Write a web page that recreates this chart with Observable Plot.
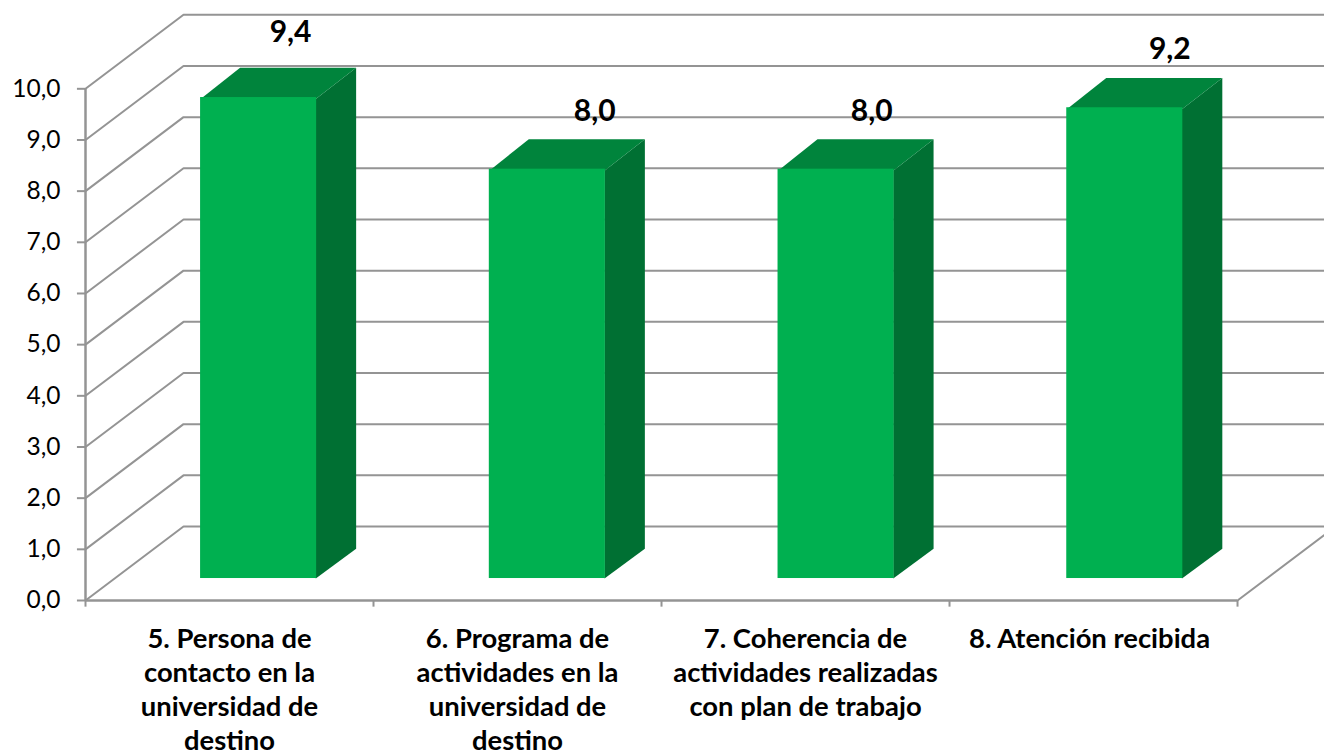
<!DOCTYPE html>
<html lang="es">
<head>
<meta charset="utf-8">
<title>Valoración</title>
<script src="https://cdn.jsdelivr.net/npm/d3@7"></script>
<script src="https://cdn.jsdelivr.net/npm/@observablehq/plot@0.6"></script>
<style>
html,body{margin:0;padding:0;background:#fff;overflow:hidden}
svg{display:block}
</style>
</head>
<body>
<div id="chart"></div>
<script>
const categories = [
  "5. Persona de\ncontacto en la\nuniversidad de\ndestino",
  "6. Programa de\nactividades en la\nuniversidad de\ndestino",
  "7. Coherencia de\nactividades realizadas\ncon plan de trabajo",
  "8. Atención recibida"
];
const values = [9.4, 8.0, 8.0, 9.2];
const yTicks = [0,1,2,3,4,5,6,7,8,9,10];
const xTicks = [0,1,2,3,4];

// Oblique projection of the 3D chart box, expressed in axis units.
const depthX = 0.3403, depthY = 1.446;
const project = (cat, val, z) => ({x: cat + z * depthX, y: val + z * depthY});
const barFront = 0.297, barBack = 0.70, barHalf = 0.2015, barStep = 1.0025;
const seamX = 0.003, seamY = 0.03; // faces overlap slightly so no seam shows
const fmt = d => d.toFixed(1).replace(".", ",");
const GRID = "#949494", AXIS = "#949494", INK = "#000";
const FONT = "Lato, Carlito, sans-serif";

const bars = values.map((v, i) => ({i, v, c: 0.5 + i * barStep, label: categories[i]}));
const corners = d => {
  const fr = project(d.c + barHalf, 0, barFront), tr = project(d.c + barHalf, d.v, barFront);
  const tl = project(d.c - barHalf, d.v, barFront);
  return {
    sideBottom: {x: fr.x - seamX, y: fr.y},
    sideTop: {x: tr.x - seamX, y: tr.y - seamY},
    topLeft: {x: tl.x, y: tl.y - seamY},
    topRight: {x: tr.x - seamX, y: tr.y - seamY},
    br: project(d.c + barHalf, 0, barBack),
    ur: project(d.c + barHalf, d.v, barBack),
    ul: project(d.c - barHalf, d.v, barBack)
  };
};
const facePts = keys => bars.flatMap(d => {
  const k = corners(d);
  return keys.map(n => ({...k[n], bar: d.i}));
});
const sideFace = facePts(["sideBottom", "br", "ur", "sideTop"]);
const topFace = facePts(["topLeft", "topRight", "ur", "ul"]);

const wall = yTicks.flatMap(v => [
  {v, ...project(0, v, 0)}, {v, ...project(0, v, 1)}, {v, ...project(4, v, 1)}
]);
const floorEdge = [project(4, 0, 0), project(4, 0, 1)];

// Hand placement of the data labels, as in the source chart.
const labelDx = [0.111, 0.167, 0.129, 0.164];
const labelDy = [1.70, 1.55, 1.55, 1.57];
const labels = bars.map((d, i) => ({
  x: 0.5 + i + labelDx[i] + barFront * depthX,
  y: d.v + labelDy[i],
  t: fmt(d.v)
}));
const catDx = [0, 0, 0, -4];

const chart = Plot.plot({
  width: 1324, height: 755,
  marginLeft: 85, marginRight: 0, marginTop: 14, marginBottom: 155,
  style: {background: "#fff", fontFamily: FONT},
  x: {type: "linear", domain: [0, 4.302], axis: null},
  y: {type: "linear", domain: [0, 11.452], axis: null},
  marks: [
    Plot.line(wall, {x: "x", y: "y", z: "v", stroke: GRID, strokeWidth: 2}),
    Plot.line(floorEdge, {x: "x", y: "y", stroke: GRID, strokeWidth: 2}),
    Plot.ruleX([0], {y1: 0, y2: 10, stroke: AXIS, strokeWidth: 2.5}),
    Plot.ruleY([0], {x1: 0, x2: 4, stroke: AXIS, strokeWidth: 2.5}),
    Plot.ruleY(yTicks, {x1: -0.028, x2: 0, stroke: AXIS, strokeWidth: 2}),
    Plot.ruleX(xTicks, {y1: -0.13, y2: 0, stroke: AXIS, strokeWidth: 2}),
    Plot.text(yTicks, {x: 0, y: d => d, text: fmt, dx: -25, textAnchor: "end", fontSize: 24.5, fill: INK}),
    Plot.line(sideFace, {x: "x", y: "y", z: "bar", fill: "#007033", stroke: "none"}),
    Plot.line(topFace, {x: "x", y: "y", z: "bar", fill: "#00843C", stroke: "none"}),
    Plot.rect(bars, {
      x1: d => project(d.c - barHalf, 0, barFront).x,
      x2: d => project(d.c + barHalf, 0, barFront).x,
      y1: d => project(0, 0, barFront).y,
      y2: d => project(0, d.v, barFront).y,
      fill: "#00B050"
    }),
    Plot.text(labels, {x: "x", y: "y", text: "t", fontSize: 30, fontWeight: 700, fill: INK}),
    ...bars.map(d => Plot.text([d], {
      x: () => d.i + 0.5, y: () => 0, text: "label", dx: catDx[d.i], dy: 23,
      lineAnchor: "top", lineHeight: 1.24,
      fontSize: 27.4, fontWeight: 700, fill: INK, textAnchor: "middle"
    }))
  ]
});
document.getElementById("chart").append(chart);
</script>
</body>
</html>
